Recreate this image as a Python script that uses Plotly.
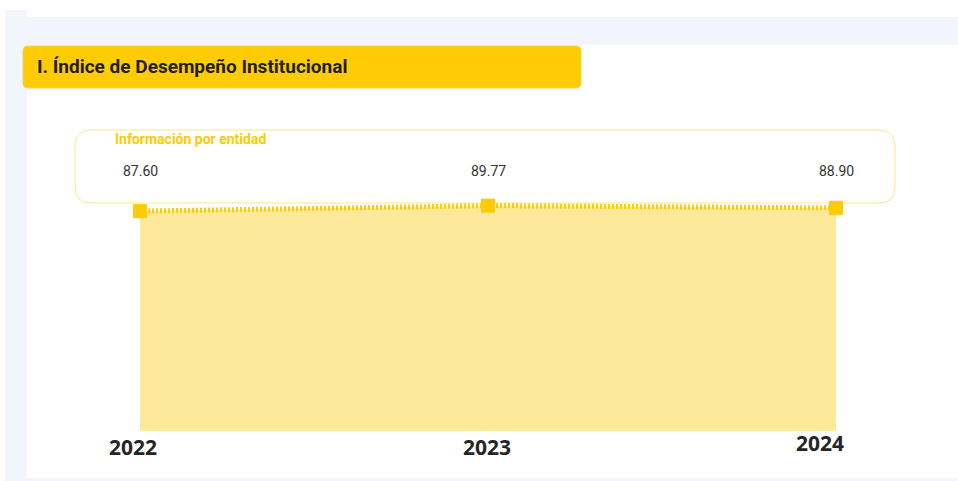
import plotly.graph_objects as go

# ---- data ----
years = [2022, 2023, 2024]
values = [87.60, 89.77, 88.90]
value_labels = ["87.60", "89.77", "88.90"]
tick_labels = ["2022", "2023", "2024"]
title_text = "I. Índice de Desempeño Institucional"
box_title = "Información por entidad"

# ---- layout geometry (pixels) ----
W, H = 958, 481
L, R, T, B = 140, 122, 180, 50
PW = W - L - R
PH = H - T - B


def X(px):
    return (px - L) / PW


def Y(py):
    return (H - B - py) / PH


def rr(x0, y0, x1, y1, r):
    pts = [
        ("M", x0 + r, y0), ("L", x1 - r, y0), ("Q", x1, y0, x1, y0 + r),
        ("L", x1, y1 - r), ("Q", x1, y1, x1 - r, y1), ("L", x0 + r, y1),
        ("Q", x0, y1, x0, y1 - r), ("L", x0, y0 + r), ("Q", x0, y0, x0 + r, y0),
    ]
    s = ""
    for p in pts:
        if p[0] == "Q":
            s += f"Q{X(p[1]):.5f},{Y(p[2]):.5f} {X(p[3]):.5f},{Y(p[4]):.5f} "
        else:
            s += f"{p[0]}{X(p[1]):.5f},{Y(p[2]):.5f} "
    return s + "Z"


YELLOW = "#FFCB05"
FILL = "#FEE99A"
BAND = "#F2F5FC"

fig = go.Figure()
fig.add_trace(go.Scatter(
    x=years, y=values, mode="lines+markers",
    line=dict(color=YELLOW, width=5, dash="2px,2px"),
    marker=dict(symbol="square", size=14, color=YELLOW),
    fill="tozeroy", fillcolor=FILL, cliponaxis=False,
    hoverinfo="skip", showlegend=False,
))

shapes = [
    dict(type="rect", xref="paper", yref="paper", x0=X(5), x1=X(27), y0=Y(10), y1=Y(481),
         fillcolor=BAND, line_width=0, layer="below"),
    dict(type="rect", xref="paper", yref="paper", x0=X(27), x1=X(958), y0=Y(17), y1=Y(45),
         fillcolor=BAND, line_width=0, layer="below"),
    dict(type="rect", xref="paper", yref="paper", x0=X(27), x1=X(958), y0=Y(478), y1=Y(481),
         fillcolor=BAND, line_width=0, layer="below"),
    dict(type="path", xref="paper", yref="paper", path=rr(23, 46, 581, 88, 5),
         fillcolor=YELLOW, line=dict(color="#F5D54A", width=1), layer="below"),
    dict(type="path", xref="paper", yref="paper", path=rr(75, 130, 895, 203, 16),
         fillcolor="rgba(0,0,0,0)", line=dict(color="#FFE68A", width=1), layer="below"),
]

annotations = [
    dict(xref="paper", yref="paper", x=X(35), y=Y(67), xanchor="left", yanchor="middle",
         text=f"<b>{title_text}</b>", showarrow=False,
         font=dict(family="Roboto", size=19, color="#1F1F1F")),
    dict(xref="paper", yref="paper", x=X(113), y=Y(139), xanchor="left", yanchor="middle",
         text=f"<b>{box_title}</b>", showarrow=False,
         font=dict(family="Roboto", size=14, color=YELLOW)),
]
for yr, lab in zip(years, value_labels):
    annotations.append(dict(xref="x", yref="paper", x=yr, y=Y(171), xanchor="center",
                            yanchor="middle", text=lab, showarrow=False,
                            font=dict(family="Roboto", size=14, color="#333333")))

# year labels, nudged as in the reference rendering
year_shift_x = [-7, -1, -16]
year_shift_y = [0, 0, 4]
for yr, lab, sx, sy in zip(years, tick_labels, year_shift_x, year_shift_y):
    annotations.append(dict(xref="x", yref="paper", x=yr, y=Y(447), xanchor="center",
                            yanchor="middle", xshift=sx, yshift=sy, text=f"<b>{lab}</b>",
                            showarrow=False,
                            font=dict(family="Open Sans", size=21, color="#252525")))

fig.update_layout(
    width=W, height=H,
    margin=dict(l=L, r=R, t=T, b=B),
    paper_bgcolor="white", plot_bgcolor="rgba(0,0,0,0)",
    shapes=shapes, annotations=annotations,
    xaxis=dict(range=[2022, 2024], showticklabels=False,
               showgrid=False, zeroline=False, showline=False, ticks=""),
    yaxis=dict(range=[0, 100], visible=False, showgrid=False, zeroline=False),
    hovermode=False,
)

fig.write_html("out.html", config={"displayModeBar": False},
               post_script="document.body.style.margin='0px';")
